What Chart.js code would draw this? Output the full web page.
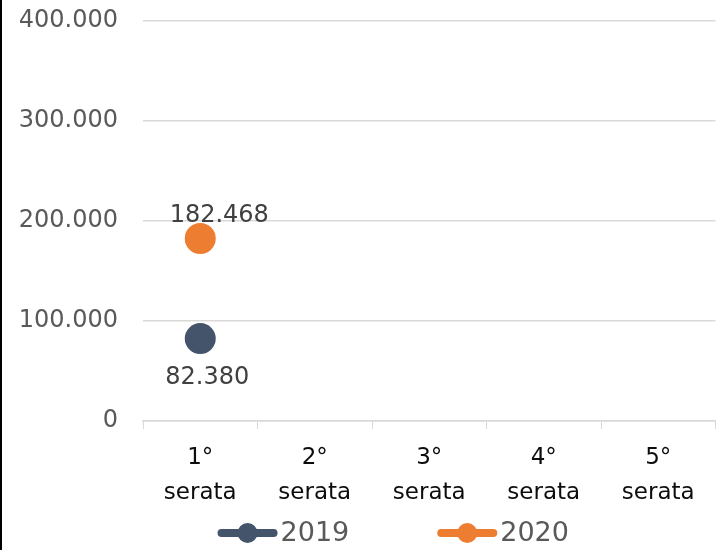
<!DOCTYPE html>
<html>
<head>
<meta charset="utf-8">
<script src="https://cdn.jsdelivr.net/npm/chart.js@4/dist/chart.umd.min.js"></script>
<style>
  html, body { margin: 0; padding: 0; background: #fff; overflow: hidden; }
  #wrap { width: 715px; height: 550px; border-left: 2px solid #000; position: relative; overflow: hidden; }
</style>
</head>
<body>
<div id="wrap"><canvas id="lineChart" width="732" height="550"></canvas></div>
<script>
// categories and values
const serate = [['1°', 'serata'], ['2°', 'serata'], ['3°', 'serata'], ['4°', 'serata'], ['5°', 'serata']];
const anni = ['2019', '2020'];
const valori2019 = [82380, null, null, null, null];
const valori2020 = [182468, null, null, null, null];
const yTicks = [0, 100000, 200000, 300000, 400000];

const colori = ['#44546A', '#ED7D31'];
const FONT = '"DejaVu Sans", sans-serif';

function formatIt(v) {
    return String(v).replace(/\B(?=(\d{3})+(?!\d))/g, '.');
}

// value labels: 2019 under the point, 2020 over it (both nudged right as in the original)
const etichette = {
    id: 'etichette',
    afterDatasetsDraw(chart) {
        const ctx = chart.ctx;
        ctx.save();
        ctx.font = '24px ' + FONT;
        ctx.fillStyle = '#404040';
        ctx.textAlign = 'center';
        ctx.textBaseline = 'middle';
        chart.data.datasets.forEach((ds, i) => {
            const meta = chart.getDatasetMeta(i);
            meta.data.forEach((pt, j) => {
                const v = ds.data[j];
                if (v === null) return;
                const dx = i === 0 ? 7 : 19;
                const dy = i === 0 ? 39 : -23;
                ctx.fillText(formatIt(v), pt.x + dx, pt.y + dy);
            });
        });
        ctx.restore();
    }
};

// legend: line with a dot, then the year
const legenda = {
    id: 'legenda',
    afterDraw(chart) {
        const ctx = chart.ctx;
        const area = chart.chartArea;
        ctx.save();
        ctx.font = '27px ' + FONT;
        ctx.textBaseline = 'middle';
        const lineW = 60, gap = 3, spacing = 88;
        const widths = anni.map(a => lineW + gap + ctx.measureText(a).width);
        const total = widths.reduce((s, w) => s + w, 0) + spacing * (anni.length - 1);
        let x = (area.left + area.right) / 2 - 36 - total / 2;
        const y = chart.height - 17;
        anni.forEach((a, i) => {
            ctx.strokeStyle = colori[i];
            ctx.lineWidth = 8;
            ctx.lineCap = 'round';
            ctx.beginPath();
            ctx.moveTo(x + 4, y);
            ctx.lineTo(x + lineW - 4, y);
            ctx.stroke();
            ctx.fillStyle = colori[i];
            ctx.beginPath();
            ctx.arc(x + lineW / 2, y, 10, 0, Math.PI * 2);
            ctx.fill();
            ctx.fillStyle = '#595959';
            ctx.fillText(a, x + lineW + gap, y + 1);
            x += widths[i] + spacing;
        });
        ctx.restore();
    }
};

const ctx = document.getElementById('lineChart').getContext('2d');

new Chart(ctx, {
    type: 'line',
    data: {
        labels: serate,
        datasets: [
            {
                label: anni[0],
                data: valori2019,
                borderColor: colori[0],
                backgroundColor: colori[0],
                borderWidth: 6,
                pointRadius: 12.5,
                pointHoverRadius: 12.5
            },
            {
                label: anni[1],
                data: valori2020,
                borderColor: colori[1],
                backgroundColor: colori[1],
                borderWidth: 6,
                pointRadius: 12.5,
                pointHoverRadius: 12.5
            }
        ]
    },
    options: {
        responsive: false,
        animation: false,
        events: [],
        layout: { padding: { left: 18, right: 0, top: 21, bottom: 45 } },
        plugins: {
            legend: { display: false },
            tooltip: { enabled: false }
        },
        scales: {
            x: {
                offset: true,
                afterFit: s => { s.paddingLeft = 0; s.paddingRight = 0; s.height = 84; },
                grid: { drawOnChartArea: false, drawTicks: true, tickLength: 8, color: '#D9D9D9', offset: true },
                border: { color: '#D9D9D9', width: 1.5 },
                ticks: {
                    color: '#0D0D0D',
                    font: { family: FONT, size: 23, lineHeight: 1.5 },
                    padding: 12,
                    maxRotation: 0,
                    autoSkip: false
                }
            },
            y: {
                min: 0,
                max: 400000,
                afterBuildTicks: axis => { axis.ticks = yTicks.map(v => ({ value: v })); },
                afterFit: s => { s.width = 123; s.paddingTop = 0; s.paddingBottom = 0; },
                grid: { color: '#D9D9D9', lineWidth: 1.5, drawTicks: false },
                border: { display: false },
                ticks: {
                    color: '#595959',
                    font: { family: FONT, size: 24 },
                    padding: 25,
                    callback: v => formatIt(v)
                }
            }
        }
    },
    plugins: [etichette, legenda]
});
</script>
</body>
</html>
